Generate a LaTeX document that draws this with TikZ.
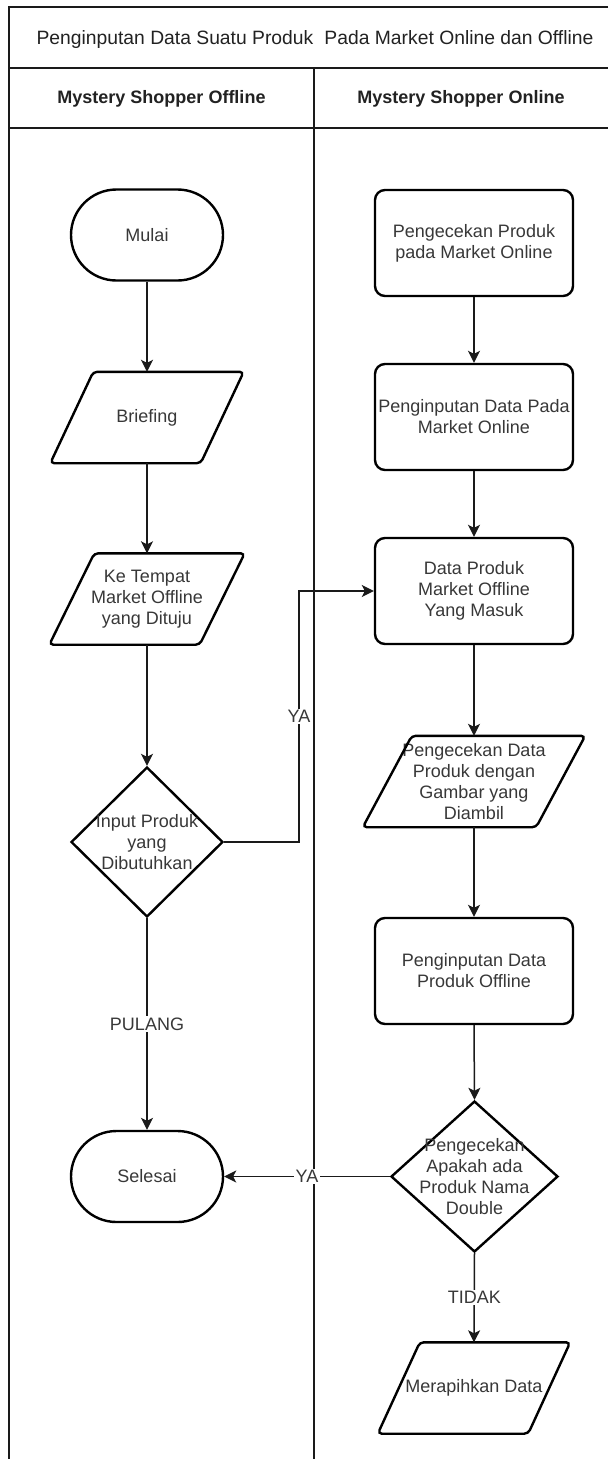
\documentclass[tikz,border=0pt]{standalone}
\usepackage{fontspec}
\setmainfont{Liberation Sans}
\usetikzlibrary{shapes.geometric,arrows.meta,calc}
\definecolor{txtc}{HTML}{383838}
\definecolor{headc}{HTML}{222222}
\definecolor{linec}{HTML}{1A1A1A}
\newcommand{\iobox}[5]{%
  \node[iotext, minimum width=#3] (#1) at (#2) {#5};
  \draw[shp, rounded corners=4pt] ($(#1.north west)+(#4/2,0)$) -- ($(#1.north east)+(#4/2,0)$) -- ($(#1.south east)+(-#4/2,0)$) -- ($(#1.south west)+(-#4/2,0)$) -- cycle;
}
\begin{document}
\begin{tikzpicture}[x=1pt,y=-1pt,
  every node/.style={font=\fontsize{18}{21}\selectfont, text=txtc},
  shp/.style={draw=black, line width=2.4pt},
  lane/.style={draw=linec, line width=1.4pt},
  term/.style={shp, rounded corners=45.5pt, minimum width=152pt, minimum height=91pt, inner sep=0pt},
  proc/.style={shp, rounded corners=10pt, minimum width=198pt, minimum height=106pt, inner sep=0pt, align=center},
  iotext/.style={minimum height=91pt, inner sep=0pt, align=center},
  dec/.style={shp, diamond, inner sep=0pt},
  txt/.style={align=center, inner sep=0pt},
  conn/.style={draw=linec, line width=1.5pt, -{Stealth[length=12pt,width=12pt,inset=3pt]}},
  lbl/.style={fill=white, inner sep=1.5pt},
  head/.style={text=headc}]
\useasboundingbox (0,0) rectangle (608,1459);
\fill[white] (0,0) rectangle (608,1459);
% pool and lanes
\draw[lane] (608,7) -- (9,7) -- (9,1459);
\draw[lane] (9,68) -- (608,68);
\draw[lane] (9,128) -- (608,128);
\draw[lane] (314,68) -- (314,1459);
\node[head, font=\fontsize{19.3}{22}\selectfont] (title) at (315,40) {Penginputan Data Suatu Produk\hspace{0.3em} Pada Market Online dan Offline};
\node[head, font=\fontsize{18}{21}\selectfont\bfseries] (lane1) at (161.5,99) {Mystery Shopper Offline};
\node[head, font=\fontsize{18}{21}\selectfont\bfseries] (lane2) at (461,99) {Mystery Shopper Online};
% left lane
\node[term] (mulai) at (147,235) {Mulai};
\iobox{brief}{147,417.5}{150}{43}{Briefing}
\iobox{tempat}{147,599}{150}{45}{Ke Tempat\\Market Offline\\yang Dituju}
\node[dec, minimum width=152pt, minimum height=150pt] (d1) at (147,842) {};
\node[txt] (d1t) at (147,842) {Input Produk\\yang\\Dibutuhkan};
\node[term] (selesai) at (147,1176.5) {Selesai};
% right lane
\node[proc] (cek) at (474,243) {Pengecekan Produk\\pada Market Online};
\node[proc] (inputon) at (474,417) {Penginputan Data Pada\\Market Online};
\node[proc] (dp) at (474,591) {Data Produk\\Market Offline\\Yang Masuk};
\iobox{gambar}{474,781.5}{173}{49}{Pengecekan Data\\Produk dengan\\Gambar yang\\Diambil}
\node[proc] (inputoff) at (474,971) {Penginputan Data\\Produk Offline};
\node[dec, minimum width=167pt, minimum height=151pt] (d2) at (474.5,1176.5) {};
\node[txt] (d2t) at (474.5,1177) {Pengecekan\\Apakah ada\\Produk Nama\\Double};
\iobox{rapi}{474,1388}{150}{42}{Merapihkan Data}
% connectors
\draw[conn] (mulai.south) -- (brief.north);
\draw[conn] (brief.south) -- (tempat.north);
\draw[conn] (tempat.south) -- (d1.north);
\draw[conn] (d1.south) -- (selesai.north) node[lbl, midway] {PULANG};
\coordinate (bend) at (299,842);
\draw[conn] (d1.east) -- (bend) |- (dp.west) node[lbl, pos=0.25] {YA};
\draw[conn] (cek.south) -- (inputon.north);
\draw[conn] (inputon.south) -- (dp.north);
\draw[conn] (dp.south) -- (gambar.north);
\draw[conn] (gambar.south) -- (inputoff.north);
\draw[conn] (inputoff.south) -- (d2.north);
\draw[conn] (d2.west) -- (selesai.east) node[lbl, midway] {YA};
\draw[conn] (d2.south) -- (rapi.north) node[lbl, midway] {TIDAK};
\end{tikzpicture}
\end{document}
